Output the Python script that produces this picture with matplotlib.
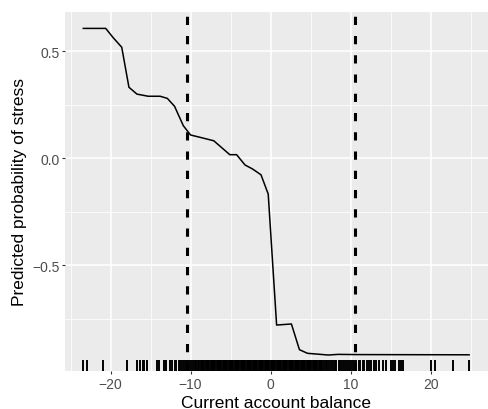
import numpy as np
import matplotlib
matplotlib.use('Agg')
from matplotlib import pyplot as plt
from matplotlib.ticker import MultipleLocator, FuncFormatter

plt.rcParams['font.family'] = ['Liberation Sans', 'DejaVu Sans']

# partial dependence curve
pd_x = [-23.4, -20.6, -19.7, -18.6, -17.7, -16.7, -15.3, -13.8, -12.9, -12.0,
        -10.9, -10.0, -8.8, -7.1, -5.1, -4.25, -3.2, -2.25, -1.2, -0.3,
        0.75, 2.6, 3.6, 4.6, 7.2, 8.45, 10.75, 24.8]
pd_y = [0.607, 0.607, 0.565, 0.519, 0.332, 0.300, 0.290, 0.290, 0.280, 0.243,
        0.152, 0.109, 0.098, 0.082, 0.017, 0.017, -0.031, -0.050, -0.077, -0.167,
        -0.779, -0.774, -0.894, -0.911, -0.919, -0.916, -0.917, -0.918]

# dashed reference lines
vlines_x = [-10.4, 10.6]

# observed values (rug)
rug_x = [-23.5, -23.0, -21.0, -17.9, -16.75, -16.3, -16.0, -15.8, -15.5, -14.25,
         -13.9, -13.3, -13.1,
         -12.6, -12.3, -12.0, -11.8, -11.5, -11.3, -11.1, -10.8, -10.6, -10.4,
         -10.2, -9.9, -9.7, -9.5, -9.3, -9.1, -8.9,
         -8.75, -8.6, -8.45, -8.3, -8.1, -7.95, -7.8, -7.65, -7.5, -7.35, -7.2,
         -7.05, -6.9, -6.75, -6.6, -6.45, -6.3, -6.15, -6.0, -5.85, -5.7, -5.55,
         -5.4, -5.25, -5.1, -4.95, -4.8, -4.65, -4.5, -4.35, -4.2, -4.05, -3.9,
         -3.75, -3.6, -3.45, -3.3, -3.15, -3.0, -2.85, -2.7, -2.55, -2.4, -2.25,
         -2.1, -1.95, -1.8, -1.65, -1.5, -1.35, -1.2, -1.05, -0.9, -0.75, -0.6,
         -0.45, -0.3, -0.15, 0.0, 0.15, 0.3, 0.45, 0.6, 0.75, 0.9, 1.05, 1.2,
         1.35, 1.5, 1.65, 1.8, 1.95, 2.1, 2.25, 2.4, 2.55, 2.7, 2.85, 3.0, 3.15,
         3.3, 3.45, 3.6, 3.75, 3.9, 4.05, 4.2, 4.35, 4.5, 4.65, 4.8, 4.95, 5.1,
         5.25, 5.4, 5.55, 5.7, 5.85, 6.0, 6.15, 6.3, 6.45,
         6.7, 6.9, 7.1, 7.3, 7.5, 7.8, 8.0, 8.2, 8.5, 8.7, 8.9, 9.2, 9.4, 9.7,
         9.9, 10.2, 10.4, 10.7, 11.0, 11.2, 11.5, 11.7, 12.0, 12.3, 12.6, 12.9,
         13.2, 13.6, 14.0, 14.4, 15.0, 15.3, 15.6, 16.0, 16.3, 16.6,
         20.1, 20.5, 22.8, 24.8]

fig = plt.figure(figsize=(4.88, 4.10), dpi=100)
ax = fig.add_axes([0.133, 0.092, 0.867, 0.877])
ax.set_facecolor('#EBEBEB')

ax.plot(pd_x, pd_y, color='black', lw=1.1, zorder=3)
for v in vlines_x:
    ax.axvline(v, color='black', lw=2.2, linestyle=(0, (2.7, 3.6)), zorder=4)
ax.vlines(rug_x, 0, 0.03, transform=ax.get_xaxis_transform(),
          color='black', lw=1.4, zorder=3)

ax.set_xlim(-25.7, 27.16)
ax.set_ylim(-0.995, 0.685)
ax.xaxis.set_major_locator(MultipleLocator(10))
ax.xaxis.set_minor_locator(MultipleLocator(5))
ax.yaxis.set_major_locator(MultipleLocator(0.5))
ax.yaxis.set_minor_locator(MultipleLocator(0.25))
ax.yaxis.set_major_formatter(FuncFormatter(lambda v, p: f'{v:.1f}'.replace('-', '\u2212')))

ax.grid(which='major', color='white', lw=1.1)
ax.grid(which='minor', color='white', lw=0.55)
ax.set_axisbelow(True)
for s in ax.spines.values():
    s.set_visible(False)

ax.tick_params(which='major', length=2.3, width=0.8, color='#333333',
               labelcolor='#4D4D4D', labelsize=10, pad=1.5)
ax.tick_params(which='minor', length=0)

ax.set_xlabel('Current account balance', fontsize=12.5, labelpad=3)
ax.set_ylabel('Predicted probability of stress', fontsize=12.5, labelpad=4)

fig.savefig('out.png', dpi=100)
